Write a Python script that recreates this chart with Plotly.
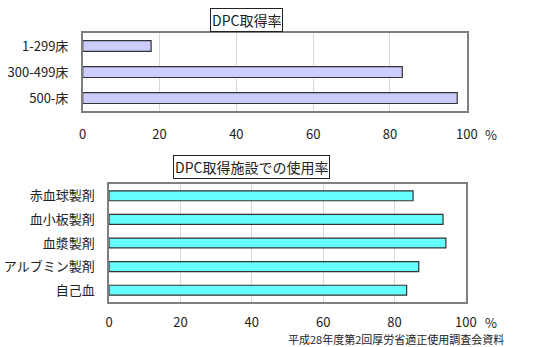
import plotly.graph_objects as go

# DPC acquisition rate by hospital bed count
bed_categories = ["1-299床", "300-499床", "500-床"]
dpc_rates = [17.8, 83.2, 97.5]

# Usage rate of blood products at DPC hospitals
product_categories = ["赤血球製剤", "血小板製剤", "血漿製剤", "アルブミン製剤", "自己血"]
usage_rates = [85.2, 93.6, 94.4, 86.8, 83.4]

x_ticks = [0, 20, 40, 60, 80, 100]
source_note = "平成28年度第2回厚労省適正使用調査会資料"

FONT = "Noto Sans CJK JP, Noto Sans, sans-serif"

fig = go.Figure()

fig.add_trace(go.Bar(
    x=dpc_rates, y=bed_categories, orientation="h",
    marker=dict(color="#CCCCFF", line=dict(color="#333333", width=1.2)),
    width=0.42, xaxis="x", yaxis="y", showlegend=False,
))
fig.add_trace(go.Bar(
    x=usage_rates, y=product_categories, orientation="h",
    marker=dict(color="#66FFFF", line=dict(color="#333333", width=1.2)),
    width=0.42, xaxis="x2", yaxis="y2", showlegend=False,
))

xcommon = dict(
    range=[0, 100], tickvals=x_ticks, showgrid=True, gridcolor="#d9d9d9",
    gridwidth=1, zeroline=False, showline=True, mirror=True,
    linecolor="#7f7f7f", linewidth=1.5, ticks="",
    tickfont=dict(size=13, color="#222"),
    fixedrange=True,
)
ycommon = dict(
    autorange="reversed", showline=True, mirror=True, linecolor="#7f7f7f",
    linewidth=1.5, ticks="", showgrid=False, tickfont=dict(size=13, color="#222"),
    ticklabelstandoff=10, fixedrange=True,
)

fig.update_layout(
    width=542, height=347,
    margin=dict(l=0, r=0, t=0, b=0),
    paper_bgcolor="white", plot_bgcolor="white",
    font=dict(family=FONT, color="#222"),
    bargap=0.58,
    xaxis=dict(domain=[0.1494, 0.8782], anchor="y", ticklabelstandoff=11, **xcommon),
    yaxis=dict(domain=[0.680, 0.9049], anchor="x", **ycommon),
    xaxis2=dict(domain=[0.1993, 0.8764], anchor="y2", ticklabelstandoff=8, **xcommon),
    yaxis2=dict(domain=[0.1297, 0.4697], anchor="x2", **ycommon),
)

annotations = [
    dict(text="DPC取得率", x=249, y=20, bordercolor="#222", borderwidth=1,
         bgcolor="white", borderpad=1, font=dict(size=14)),
    dict(text="DPC取得施設での使用率", x=255, y=167, bordercolor="#222",
         borderwidth=1, bgcolor="white", borderpad=1, font=dict(size=14)),
    dict(text="%", x=501, y=134, font=dict(size=13)),
    dict(text="%", x=501, y=322, font=dict(size=13)),
    dict(text=source_note, x=514, y=339, xanchor="right", font=dict(size=11)),
]
for a in annotations:
    a.setdefault("xanchor", "center")
    fig.add_annotation(
        text=a["text"], x=a["x"] / 542, y=1 - a["y"] / 347,
        xref="paper", yref="paper", xanchor=a["xanchor"], yanchor="middle",
        showarrow=False, font=a["font"],
        bordercolor=a.get("bordercolor"), borderwidth=a.get("borderwidth", 0),
        bgcolor=a.get("bgcolor"), borderpad=a.get("borderpad", 0),
    )

fig.write_html("out.html")
